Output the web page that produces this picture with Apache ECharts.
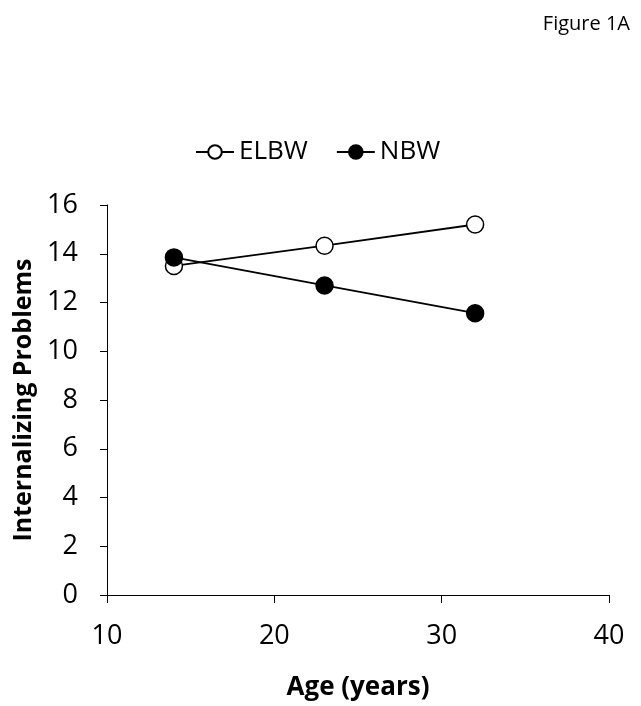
<!DOCTYPE html>
<html><head><meta charset="utf-8">
<script src="https://cdn.jsdelivr.net/npm/echarts@6/dist/echarts.min.js"></script>
<style>html,body{margin:0;padding:0;background:#fff}#c{width:641px;height:706px}</style>
</head><body><div id="c"></div>
<script>
const ages = [14, 23, 32];
const elbw = [13.5, 14.33, 15.2];
const nbw = [13.85, 12.7, 11.56];
const xTicks = [10, 20, 30, 40];
const yTicks = [0, 2, 4, 6, 8, 10, 12, 14, 16];
const FONT = '"Open Sans", "Noto Sans", sans-serif';
const chart = echarts.init(document.getElementById('c'));
chart.setOption({
  animation: false,
  backgroundColor: '#fff',
  title: { text: 'Figure 1A', right: 6, top: 9, textStyle: { fontFamily: FONT, fontSize: 20, fontWeight: 'normal', color: '#000' } },
  legend: {
    top: 134, left: 190, itemWidth: 38, itemHeight: 17, itemGap: 28,
    textStyle: { fontFamily: FONT, fontSize: 26, color: '#000' },
    data: ['ELBW', 'NBW']
  },
  grid: { left: 107, right: 32, top: 205, bottom: 111 },
  xAxis: {
    type: 'value', min: xTicks[0], max: xTicks[xTicks.length - 1], interval: 10,
    name: 'Age (years)', nameLocation: 'middle', nameGap: 80,
    nameTextStyle: { fontFamily: FONT, fontSize: 26, fontWeight: 'bold', color: '#000' },
    axisLine: { lineStyle: { color: '#000', width: 1 } },
    axisTick: { show: true, length: 8, lineStyle: { color: '#000' } },
    axisLabel: { fontFamily: FONT, fontSize: 27, color: '#000', margin: 28 },
    splitLine: { show: false }
  },
  yAxis: {
    type: 'value', min: yTicks[0], max: yTicks[yTicks.length - 1], interval: 2,
    name: 'Internalizing Problems', nameLocation: 'middle', nameGap: 68,
    nameTextStyle: { fontFamily: FONT, fontSize: 25, fontWeight: 'bold', color: '#000' },
    axisLine: { show: true, lineStyle: { color: '#000', width: 1 } },
    axisTick: { show: true, length: 7, lineStyle: { color: '#000' } },
    axisLabel: { fontFamily: FONT, fontSize: 27, color: '#000', margin: 29 },
    splitLine: { show: false }
  },
  series: [
    {
      name: 'ELBW', type: 'line', data: ages.map((a, i) => [a, elbw[i]]),
      symbol: 'circle', symbolSize: 17,
      lineStyle: { color: '#000', width: 1.8 },
      itemStyle: { color: '#fff', borderColor: '#000', borderWidth: 1.5 }
    },
    {
      name: 'NBW', type: 'line', data: ages.map((a, i) => [a, nbw[i]]),
      symbol: 'circle', symbolSize: 17,
      lineStyle: { color: '#000', width: 1.8 },
      itemStyle: { color: '#000', borderColor: '#000', borderWidth: 1.5 }
    }
  ]
});
</script></body></html>
